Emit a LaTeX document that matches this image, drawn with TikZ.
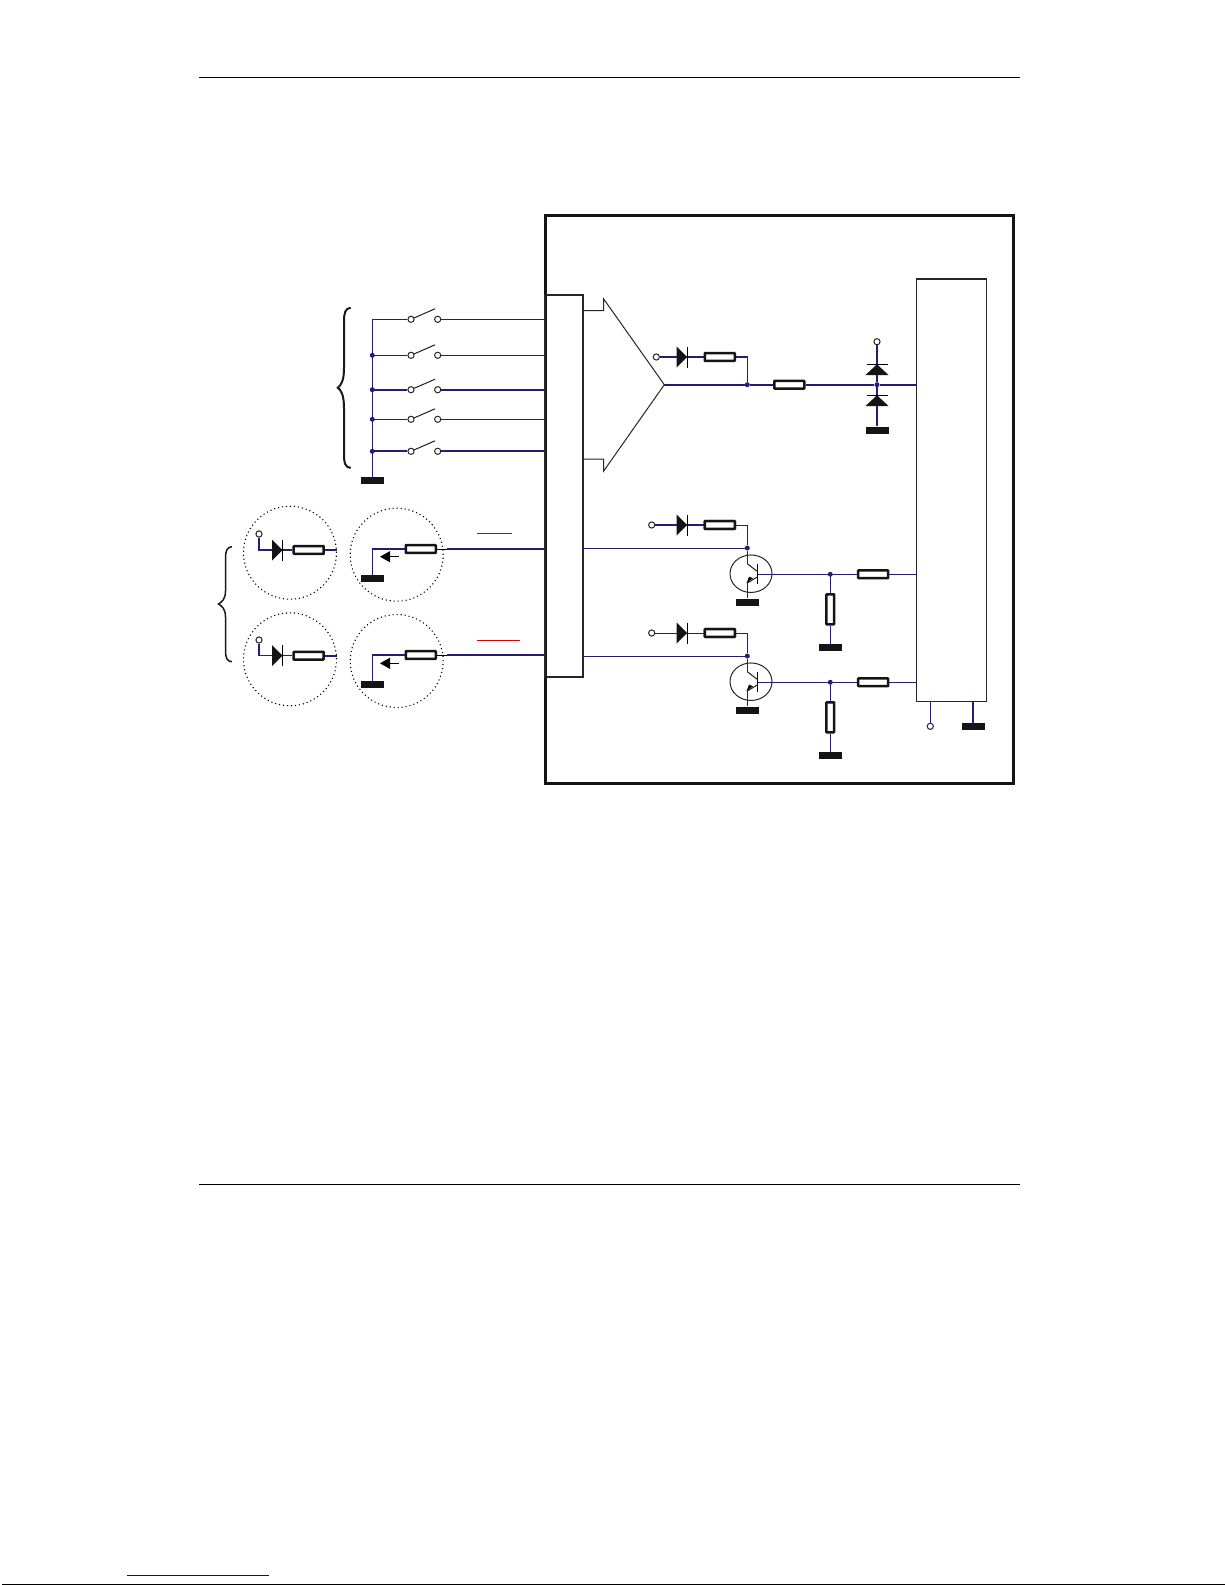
\documentclass[tikz,border=0pt]{standalone}
\usetikzlibrary{arrows.meta,shapes.geometric}
\definecolor{navy}{HTML}{2A1A78}
\tikzset{
  wire/.style={draw=navy,line width=1pt},
  bus/.style={draw=navy,line width=2pt},
  blk/.style={draw=black!88,line width=1pt},
  res/.style={draw=black!92,fill=white,line width=2.5pt,rounded corners=0.6pt,inner sep=0pt,minimum width=30pt,minimum height=7.8pt},
  vres/.style={res,minimum width=7.8pt,minimum height=30pt},
  term/.style={circle,draw=black!85,fill=white,line width=1pt,inner sep=0pt,minimum size=6.2pt},
  gnd/.style={fill=black!92,inner sep=0pt,minimum width=23pt,minimum height=7pt},
  jn/.style={circle,fill=navy,inner sep=0pt,minimum size=5pt},
  halo/.style={circle,draw=black,line width=1.1pt,dash pattern=on 1.1pt off 2.9pt,inner sep=0pt,minimum size=93pt},
  bx/.style={draw=black!85,line width=1.1pt,inner sep=0pt},
}
\newcommand{\diodeR}[3]{%
  \fill[black!92] (#2,#3-10.5) -- (#2+10.5,#3) -- (#2,#3+10.5) -- cycle;
  \draw[black,line width=0.8pt] (#2+10.8,#3-10.5) -- (#2+10.8,#3+10.5);
}
\newcommand{\diodeU}[3]{%
  \fill[black!92] (#2-11.5,#3+10.7) -- (#2,#3) -- (#2+11.5,#3+10.7) -- cycle;
  \draw[black,line width=0.8pt] (#2-10.5,#3) -- (#2+10.5,#3);
}
\newcommand{\transistor}[2]{%
  \node[draw=black!85,ellipse,line width=1pt,inner sep=0pt,minimum width=42pt,minimum height=37.5pt] (#1c) at (751,#2) {};
  \coordinate (#1col) at (747.3,#2-10);
  \coordinate (#1em) at (747,#2+9.5);
  \draw[black,line width=0.9pt] (757.7,#2-10) -- (757.7,#2+10.5);
  \draw[blk,line width=1pt] (#1col) -- (757.7,#2-2);
  \draw[blk,line width=1pt] (757.7,#2+3) -- (#1em);
  \fill[black] (753,#2+4.5) -- (746.5,#2+9.5) -- (749,#2+3) -- cycle;
}
\begin{document}
\begin{tikzpicture}[x=1pt,y=-1pt]
\useasboundingbox (0,0) rectangle (1225,1585);
\fill[white] (0,0) rectangle (1225,1585);

% page rules
\coordinate (rt1) at (199,77.3);
\coordinate (rt2) at (1020,77.3);
\coordinate (rb1) at (199,1184);
\coordinate (rb2) at (1020,1184);
\draw[black,line width=1pt] (rt1) -- (rt2);
\draw[black,line width=1pt] (rb1) -- (rb2);
\coordinate (lk1) at (127,1575.3);
\coordinate (lk2) at (269,1575.3);
\draw[blue!85!black,line width=1pt] (lk1) -- (lk2);
\coordinate (e1) at (2,1584.5);
\coordinate (e2) at (1225,1584.5);
\draw[black,line width=1pt] (e1) -- (e2);

% boxes
\node[draw=black!92,line width=3pt,inner sep=0pt,minimum width=468.2pt,minimum height=568.7pt] (outer) at (779.5,499.6) {};
\node[bx,minimum width=38pt,minimum height=382pt] (inbus) at (564,486) {};
\node[bx,minimum width=70.7pt,minimum height=422.7pt] (mcu) at (951.4,490.35) {};

% switch inputs
\coordinate (sT) at (372.3,319.3);
\node[gnd] (sg) at (372.3,480.5) {};
\draw[wire] (sT) -- (sg);
\foreach \n/\yy/\st in {1/319.3/wire,2/355.3/wire,3/389.7/bus,4/419.3/wire,5/451.3/bus}{
  \node[term] (sa\n) at (411,\yy) {};
  \node[term] (sb\n) at (437.7,\yy) {};
  \coordinate (sl\n) at (372.3,\yy);
  \draw[\st] (sl\n) -- (sa\n);
  \draw[\st] (sb\n) -- (sb\n -| inbus.west);
  \coordinate (bl\n) at (435,\yy-10.5);
  \draw[blk] (sa\n) -- (bl\n);
}
\foreach \n in {2,3,4,5}{\node[jn] (sj\n) at (sl\n) {};}

% braces
\draw[black!90,line width=2pt] (350.7,307.7) .. controls (345,308.5) and (344,313) .. (344,322)
  -- (344,368) .. controls (344,381) and (341,385) .. (337.8,387.7)
  .. controls (341,390) and (344,395) .. (344,408)
  -- (344,453) .. controls (344,463) and (345,467.5) .. (350.7,468);
\draw[black!90,line width=1.5pt] (232,546.7) .. controls (227,547) and (225.5,551) .. (225.5,558)
  -- (225.5,591) .. controls (225.5,599) and (222,602) .. (218.5,604)
  .. controls (222,606) and (225.5,609) .. (225.5,617)
  -- (225.5,650) .. controls (225.5,658) and (227,661.5) .. (232,661.7);

% dotted circles
\node[halo] (h1) at (290,552.7) {};
\node[halo] (h2) at (396.7,554.7) {};
\node[halo] (h3) at (290,659.3) {};
\node[halo] (h4) at (396.7,661) {};

% source modules
\foreach \n/\yy/\tt in {1/550/534,2/655.7/640}{
  \node[term] (t\n) at (259,\tt) {};
  \coordinate (tc\n) at (259,\yy);
  \coordinate (te\n) at (336.7,\yy);
  \node[res] (r\n) at (308.7,\yy) {};
  \draw[wire,line width=1.3pt] (t\n) -- (tc\n) -- (r\n);
  \draw[bus] (r\n) -- (te\n);
  \diodeR{d\n}{272}{\yy}
}
% sink modules
\foreach \n/\yy/\gg/\aa in {1/549/578.5/556.7,2/655/684.5/663.3}{
  \node[res] (q\n) at (420.8,\yy) {};
  \node[gnd] (qg\n) at (372.3,\gg) {};
  \coordinate (qc\n) at (372.3,\yy);
  \coordinate (qk\n) at (447,\yy);
  \draw[wire,line width=1.3pt] (qg\n) -- (qc\n) -- (q\n);
  \draw[bus] (qk\n) -- (q\n -| inbus.west);
  \draw[black,line width=1pt] (q\n) -- (qk\n);
  \coordinate (ax\n) at (399,\aa);
  \coordinate (ay\n) at (380,\aa);
  \draw[black,line width=0.9pt,-{Triangle[length=10pt,width=11pt]}] (ax\n) -- (ay\n);
}
% red marks
\coordinate (ra1) at (477,533.3);
\coordinate (ra2) at (511.7,533.3);
\coordinate (rc1) at (477,640.3);
\coordinate (rc2) at (520,640.3);
\draw[red!85!black,line width=0.9pt] (ra1) -- (ra2);
\draw[red!85!black,line width=0.9pt] (rc1) -- (rc2);

% comparator
\coordinate (ctip) at (664.3,384.7);
\coordinate (cs1) at (583,310.7);
\coordinate (cs2) at (603.7,310.7);
\coordinate (cs3) at (583,459);
\coordinate (cs4) at (603.7,459);
\draw[black!85,line width=1pt] (cs1) -- (cs2) -- (603.7,299) -- (ctip) -- (603.7,471) -- (cs4) -- (cs3);

\node[term] (ct) at (656.3,357) {};
\node[res] (cr1) at (719.8,357) {};
\node[jn] (cj1) at (747.3,384.7) {};
\node[res] (cr2) at (789.3,384.7) {};
\node[jn] (cj2) at (877,384.7) {};
\draw[bus,line width=1.5pt] (ct) -- (cr1);
\draw[wire,line width=1.3pt] (cr1) -| (cj1);
\draw[bus,line width=1.6pt] (ctip) -- (cj1) -- (cr2) -- (cj2) -- (cj2 -| mcu.west);
\diodeR{cd}{676.7}{357}

\node[term] (vt) at (877,341.7) {};
\node[gnd] (vg) at (877,430) {};
\draw[bus,line width=1.5pt] (vt) -- (cj2) -- (vg);
\diodeU{du}{877}{364.3}
\diodeU{dl}{877}{395.3}

% output stages
\foreach \n/\of in {a/0,b/108}{
  \pgfmathsetmacro{\yd}{525+\of}
  \pgfmathsetmacro{\yb}{548+\of}
  \pgfmathsetmacro{\yt}{573.7+\of}
  \pgfmathsetmacro{\yo}{574.3+\of}
  \pgfmathsetmacro{\yg}{602+\of}
  \pgfmathsetmacro{\yr}{609.3+\of}
  \pgfmathsetmacro{\yh}{647.2+\of}
  \node[term] (\n t) at (651.7,\yd) {};
  \node[res] (\n r) at (719.8,\yd) {};
  \node[jn] (\n j) at (747.3,\yb) {};
  \transistor{\n x}{\yt}
  \node[gnd] (\n g) at (747,\yg) {};
  \node[jn] (\n o) at (830.3,\yo) {};
  \node[res] (\n s) at (873.2,\yo) {};
  \node[vres] (\n v) at (830.3,\yr) {};
  \node[gnd] (\n h) at (830.3,\yh) {};
  \coordinate (\n be) at (757.7,\yo);
  \coordinate (\n bl) at (583,\yb);
  \draw[wire] (\n r) -| (\n j);
  \draw[wire] (\n bl) -- (\n j);
  \draw[wire] (\n j) -- (\n xcol);
  \draw[wire] (\n xem) -- (\n g);
  \draw[wire] (\n be) -- (\n o) -- (\n s) -- (\n s -| mcu.west);
  \draw[wire] (\n o) -- (\n v) -- (\n h);
}
\draw[bus,line width=1.5pt] (at) -- (ar);
\draw[wire] (bt) -- (br);
\foreach \n in {a,b}{
  \node[res] at (\n r) {};
}
\diodeR{ad}{676.7}{525}
\diodeR{bd}{676.7}{633}

% supply of block
\node[term] (mt) at (930.3,726.3) {};
\node[gnd] (mg) at (973,726.2) {};
\coordinate (mt0) at (930.3,701.7);
\coordinate (mg0) at (973,701.7);
\draw[wire] (mt0) -- (mt);
\draw[bus] (mg0) -- (mg);
\end{tikzpicture}
\end{document}
